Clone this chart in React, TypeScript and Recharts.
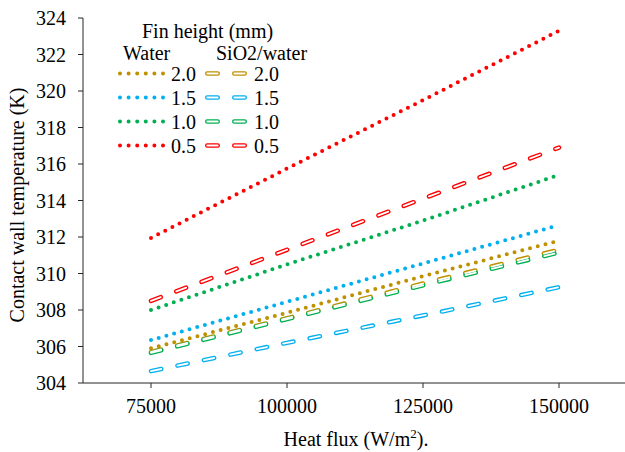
import { LineChart, Line, XAxis, YAxis } from "recharts";

// heat flux (W/m2) at which the wall temperature was evaluated
const heatFlux = [75000, 100000, 125000, 150000];

// contact wall temperature (K), pure water, per fin height
const water20 = [305.9, 307.85, 309.85, 311.8];
const water15 = [306.35, 308.45, 310.55, 312.65];
const water10 = [308.0, 310.5, 312.9, 315.4];
const water05 = [311.95, 315.75, 319.5, 323.3];

// contact wall temperature (K), SiO2/water nanofluid, per fin height
const nano20 = [305.7, 307.55, 309.45, 311.3];
const nano15 = [304.65, 306.2, 307.7, 309.25];
const nano10 = [305.65, 307.5, 309.35, 311.15];
const nano05 = [308.5, 311.3, 314.1, 316.9];

const xTicks = [75000, 100000, 125000, 150000];
const yTicks = [304, 306, 308, 310, 312, 314, 316, 318, 320, 322, 324];
const finHeights = ["2.0", "1.5", "1.0", "0.5"];

const GOLD = "#BF9000";
const BLUE = "#00B0F0";
const GREEN = "#00B050";
const RED = "#FF0000";
const FONT = "'Liberation Serif', 'Times New Roman', serif";

const data = heatFlux.map((q, i) => ({
  q,
  w20: water20[i],
  w15: water15[i],
  w10: water10[i],
  w05: water05[i],
  n20: nano20[i],
  n15: nano15[i],
  n10: nano10[i],
  n05: nano05[i],
}));

const series = [
  { water: "w20", nano: "n20", color: GOLD },
  { water: "w15", nano: "n15", color: BLUE },
  { water: "w10", nano: "n10", color: GREEN },
  { water: "w05", nano: "n05", color: RED },
];

const DOT = "0 8";
const DASH = "10.5 16.5";

const YTitle = () => (
  <text
    x={24}
    y={205}
    transform="rotate(-90 24 205)"
    textAnchor="middle"
    fontFamily={FONT}
    style={{ fontFamily: FONT }}
    fontSize={20}
    fill="#000"
  >
    Contact wall temperature (K)
  </text>
);

const XTitle = () => (
  <text
    x={356}
    y={446}
    textAnchor="middle"
    fontFamily={FONT}
    style={{ fontFamily: FONT }}
    fontSize={20}
    fill="#000"
  >
    Heat flux (W/m
    <tspan dy={-8} fontSize={13}>
      2
    </tspan>
    <tspan dy={8}>).</tspan>
  </text>
);

// legend: dotted sample for water, hollow dash sample for the nanofluid
function FinLegend() {
  const text = { fontFamily: FONT, fontSize: 20, fill: "#000" };
  return (
    <svg
      width={625}
      height={452}
      style={{ position: "absolute", left: 0, top: 0, pointerEvents: "none" }}
    >
      <text x={142} y={38} {...text}>
        Fin height (mm)
      </text>
      <text x={123} y={60} {...text}>
        Water
      </text>
      <text x={216} y={60} {...text}>
        SiO2/water
      </text>
      {series.map((s, i) => {
        const y = 73.5 + i * 24;
        return (
          <g key={s.water}>
            <line
              x1={120}
              x2={164}
              y1={y}
              y2={y}
              stroke={s.color}
              strokeWidth={4}
              strokeLinecap="round"
              strokeDasharray="0 8.6"
            />
            <text x={171} y={y + 7} {...text}>
              {finHeights[i]}
            </text>
            <line
              x1={207.25}
              x2={245}
              y1={y}
              y2={y}
              stroke={s.color}
              strokeWidth={4.5}
              strokeLinecap="round"
              strokeDasharray={DASH}
            />
            <line
              x1={207.25}
              x2={245}
              y1={y}
              y2={y}
              stroke="#fff"
              strokeWidth={1.8}
              strokeLinecap="round"
              strokeDasharray={DASH}
            />
            <text x={254} y={y + 7} {...text}>
              {finHeights[i]}
            </text>
          </g>
        );
      })}
    </svg>
  );
}

export default function App() {
  const tick = { fontFamily: FONT, fontSize: 20, fill: "#000" };
  return (
    <div
      style={{
        position: "absolute",
        left: 0,
        top: 0,
        width: 625,
        height: 452,
        overflow: "hidden",
        background: "#fff",
        fontFamily: FONT,
      }}
    >
      <LineChart
        width={627}
        height={452}
        data={data}
        margin={{ top: 18, right: 0, bottom: 0, left: 0 }}
        style={{ fontFamily: FONT }}
      >
        <XAxis
          dataKey="q"
          type="number"
          domain={[62500, 162500]}
          ticks={xTicks}
          height={69}
          tickSize={5}
          tickMargin={11}
          tick={tick}
          stroke="#262626"
          label={<XTitle />}
        />
        <YAxis
          type="number"
          domain={[304, 324]}
          ticks={yTicks}
          width={83}
          tickSize={5}
          tickMargin={12}
          tick={tick}
          stroke="#262626"
          label={<YTitle />}
        />
        {series.map((s) => (
          <Line
            key={s.water}
            dataKey={s.water}
            stroke={s.color}
            strokeWidth={4}
            strokeLinecap="round"
            strokeDasharray={DOT}
            dot={false}
            activeDot={false}
            isAnimationActive={false}
          />
        ))}
        {series.map((s) => (
          <Line
            key={s.nano}
            dataKey={s.nano}
            stroke={s.color}
            strokeWidth={4.5}
            strokeLinecap="round"
            strokeDasharray={DASH}
            dot={false}
            activeDot={false}
            isAnimationActive={false}
          />
        ))}
        {series.map((s) => (
          <Line
            key={s.nano + "-core"}
            dataKey={s.nano}
            stroke="#fff"
            strokeWidth={1.8}
            strokeLinecap="round"
            strokeDasharray={DASH}
            dot={false}
            activeDot={false}
            isAnimationActive={false}
          />
        ))}
      </LineChart>
      <FinLegend />
    </div>
  );
}
